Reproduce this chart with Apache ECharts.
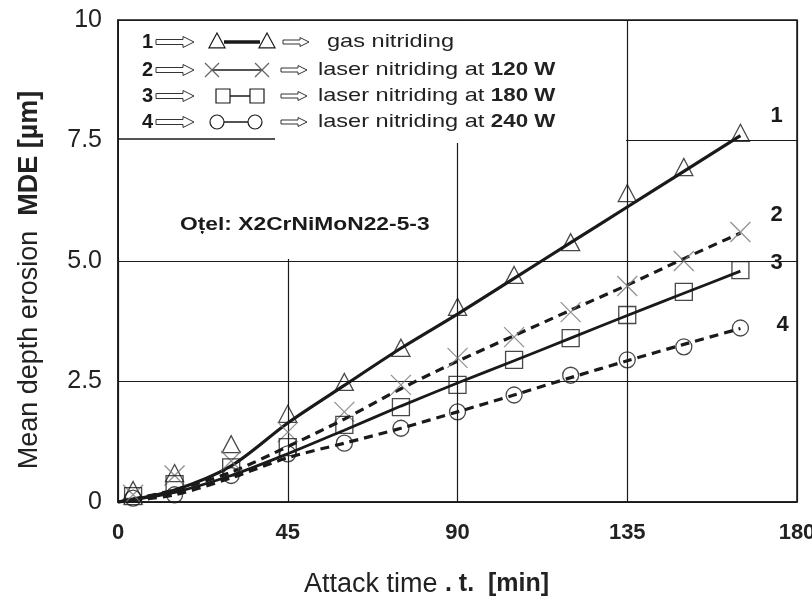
<!DOCTYPE html>
<html>
<head>
<meta charset="utf-8">
<script src="https://cdn.jsdelivr.net/npm/echarts@6/dist/echarts.min.js"></script>
<style>
  html, body { margin: 0; padding: 0; background: #fff; }
  #chart { width: 812px; height: 605px; }
</style>
</head>
<body>
<div id="chart"></div>
<script>
// ---- data ----
const xTicks = [0, 45, 90, 135, 180]
const yTickLabels = { 0: "0", 2.5: "2.5", 5: "5.0", 7.5: "7.5", 10: "10" }
const seriesNumbers = ["1", "2", "3", "4"]
const legendLabels = [
  "gas nitriding",
  "laser nitriding at 120 W",
  "laser nitriding at 180 W",
  "laser nitriding at 240 W"
]

// measured points (markers)
const markerTimes = [4, 15, 30, 45, 60, 75, 90, 105, 120, 135, 150, 165]
const gasMarks = [0.25, 0.6, 1.2, 1.83, 2.49, 3.2, 4.05, 4.71, 5.39, 6.41, 6.95, 7.66]
const laser120Marks = [0.15, 0.55, 0.85, 1.45, 1.87, 2.43, 2.99, 3.42, 3.94, 4.48, 5.0, 5.6]
const laser180Marks = [0.12, 0.37, 0.72, 1.14, 1.6, 1.97, 2.43, 2.95, 3.4, 3.88, 4.36, 4.81]
const laser240Marks = [0.08, 0.15, 0.55, 1.0, 1.22, 1.53, 1.87, 2.22, 2.63, 2.95, 3.22, 3.61]

// fitted curves
const fitTimes = [0, 15, 30, 45, 60, 75, 90, 105, 120, 135, 150, 165]
const gasFit = [0, 0.25, 0.75, 1.64, 2.42, 3.19, 3.9, 4.64, 5.38, 6.12, 6.86, 7.6]
const laser120Fit = [0, 0.25, 0.62, 1.15, 1.72, 2.35, 2.92, 3.45, 3.98, 4.5, 5.05, 5.58]
const laser180Fit = [0, 0.2, 0.55, 1.0, 1.49, 1.99, 2.47, 2.93, 3.4, 3.87, 4.33, 4.79]
const laser240Fit = [0, 0.15, 0.5, 0.92, 1.22, 1.53, 1.87, 2.22, 2.58, 2.93, 3.27, 3.6]

const FONT = "Liberation Sans"
const INK = "#1a1a1a"

var dom = document.getElementById("chart")
var myChart = echarts.init(dom, null, { renderer: "canvas" })

const zip = (xs, ys) => xs.map((x, i) => [x, ys[i]])

const fits = [gasFit, laser120Fit, laser180Fit, laser240Fit]
const marks = [gasMarks, laser120Marks, laser180Marks, laser240Marks]

const fitStyles = [
  { width: 3.2, type: "solid" },
  { width: 3.2, type: [9, 6] },
  { width: 2.8, type: "solid" },
  { width: 3.2, type: [9, 6] }
]
const endOffsets = [[22, -20], [22, -18], [22, -8], [28, -4]]

const markerStyles = [
  { symbol: "triangle", symbolSize: [18, 17], color: INK },
  { symbol: "path://M0,0L10,10M10,0L0,10", symbolSize: 20, color: "#777" },
  { symbol: "rect", symbolSize: 17, color: INK },
  { symbol: "circle", symbolSize: 16, color: INK }
]

const lineSeries = fits.map((ys, i) => ({
  name: legendLabels[i],
  type: "line",
  data: zip(fitTimes, ys),
  smooth: 0.3,
  symbol: "none",
  z: 3,
  lineStyle: { color: INK, width: fitStyles[i].width, type: fitStyles[i].type },
  endLabel: {
    show: true,
    formatter: seriesNumbers[i],
    offset: endOffsets[i],
    fontFamily: FONT,
    fontSize: 22,
    fontWeight: "bold",
    color: INK
  }
}))

const markerSeries = marks.map((ys, i) => ({
  name: legendLabels[i] + " (measured)",
  type: "scatter",
  data: zip(markerTimes, ys),
  symbol: markerStyles[i].symbol,
  symbolSize: markerStyles[i].symbolSize,
  z: 4,
  itemStyle: {
    color: "transparent",
    borderColor: markerStyles[i].color,
    borderWidth: 1.3
  }
}))

// ---- hand drawn key (graphic) ----
const arrow = (x, y, w, s, h, hl) => ({
  type: "polygon",
  shape: {
    points: [
      [x, y - s], [x + w - hl, y - s], [x + w - hl, y - h], [x + w, y],
      [x + w - hl, y + h], [x + w - hl, y + s], [x, y + s]
    ]
  },
  style: { fill: "#fff", stroke: "#333", lineWidth: 1 }
})
const tri = (cx, cy, r) => ({
  type: "polygon",
  shape: { points: [[cx - r, cy + r * 0.85], [cx, cy - r], [cx + r, cy + r * 0.85]] },
  style: { fill: "none", stroke: INK, lineWidth: 1.2 }
})
const seg = (x1, y1, x2, y2, w, c) => ({
  type: "line",
  shape: { x1, y1, x2, y2 },
  style: { stroke: c || INK, lineWidth: w }
})
const cross = (cx, cy, r) => [
  seg(cx - r, cy - r, cx + r, cy + r, 1.2, "#666"),
  seg(cx + r, cy - r, cx - r, cy + r, 1.2, "#666")
]

const rowY = [42, 70, 96, 122]
const keyGraphics = []
rowY.forEach((y, i) => {
  keyGraphics.push({
    type: "text", x: 142, y: y,
    style: { text: seriesNumbers[i], font: `bold 20px "${FONT}"`, fill: INK, verticalAlign: "middle" }
  })
  keyGraphics.push(arrow(156, y, 38, 2.5, 5.5, 11))
  keyGraphics.push(arrow(i === 0 ? 283 : 281, y, 26, 2, 4.5, 9))
  const parts = legendLabels[i].split(" at ")
  const txt = parts.length > 1
    ? `{r|${parts[0]} at }{b|${parts[1]}}`
    : `{r|${parts[0]}}`
  keyGraphics.push({
    type: "text", x: i === 0 ? 327 : 318, y: y, scaleX: 1.24,
    style: {
      text: txt,
      verticalAlign: "middle",
      rich: {
        r: { fontFamily: FONT, fontSize: 19, fill: "#222" },
        b: { fontFamily: FONT, fontSize: 18, fontWeight: "bold", fill: "#222" }
      }
    }
  })
})
// row symbols
keyGraphics.push(seg(224, 42, 260, 42, 3.5), tri(217, 41, 8), tri(267, 41, 8))
keyGraphics.push(seg(212, 70, 262, 70, 1.5), ...cross(212, 70, 7), ...cross(262, 70, 7))
keyGraphics.push(seg(230, 96, 250, 96, 1.5),
  { type: "rect", shape: { x: 216, y: 89, width: 14, height: 14 }, style: { fill: "none", stroke: INK, lineWidth: 1.2 } },
  { type: "rect", shape: { x: 250, y: 89, width: 14, height: 14 }, style: { fill: "none", stroke: INK, lineWidth: 1.2 } })
keyGraphics.push(seg(224, 122, 248, 122, 1.5),
  { type: "circle", shape: { cx: 217, cy: 122, r: 7 }, style: { fill: "none", stroke: INK, lineWidth: 1.2 } },
  { type: "circle", shape: { cx: 255, cy: 122, r: 7 }, style: { fill: "none", stroke: INK, lineWidth: 1.2 } })

var option = {
  animation: false,
  backgroundColor: "#fff",
  grid: {
    left: 118,
    right: 15,
    top: 20,
    bottom: 103,
    outerBoundsMode: "none",
    show: true,
    borderColor: INK,
    borderWidth: 1.5,
    backgroundColor: "transparent"
  },
  xAxis: {
    type: "value",
    min: xTicks[0],
    max: xTicks[xTicks.length - 1],
    interval: 45,
    name: "{a|Attack time }{b|. t.  [min]}",
    nameLocation: "middle",
    nameGap: 69,
    nameTextStyle: {
      padding: [0, 62, 0, 0],
      rich: {
        a: { fontFamily: FONT, fontSize: 27, color: "#222" },
        b: { fontFamily: FONT, fontSize: 25, fontWeight: "bold", color: "#222" }
      }
    },
    axisLine: { show: true, lineStyle: { color: INK, width: 1.5 } },
    axisTick: { show: false },
    axisLabel: {
      margin: 20,
      fontFamily: FONT,
      fontSize: 22,
      fontWeight: "bold",
      color: "#222"
    },
    splitLine: { show: true, lineStyle: { color: INK, width: 1.2 } }
  },
  yAxis: {
    type: "value",
    min: 0,
    max: 10,
    interval: 2.5,
    name: "{a|Mean depth erosion  }{b|MDE [\u00b5m]}",
    nameLocation: "middle",
    nameRotate: 90,
    nameGap: 75,
    nameTextStyle: {
      padding: [0, 38, 0, 0],
      rich: {
        a: { fontFamily: FONT, fontSize: 27, color: "#222" },
        b: { fontFamily: FONT, fontSize: 27, fontWeight: "bold", color: "#222" }
      }
    },
    axisLine: { show: true, lineStyle: { color: INK, width: 1.5 } },
    axisTick: { show: false },
    axisLabel: {
      margin: 16,
      fontFamily: FONT,
      fontSize: 25,
      color: "#222",
      formatter: (v) => yTickLabels[v]
    },
    splitLine: { show: true, lineStyle: { color: INK, width: 1.2 } }
  },
  graphic: [
    // blank area holding the key (hides grid lines there, as in the original)
    { type: "rect", z: 50, shape: { x: 119, y: 21, width: 507, height: 122 }, style: { fill: "#fff" } },
    { type: "rect", z: 50, shape: { x: 119, y: 143, width: 334, height: 116 }, style: { fill: "#fff" } },
    { type: "line", z: 51, shape: { x1: 118, y1: 139, x2: 275, y2: 139 }, style: { stroke: INK, lineWidth: 1.3 } },
    ...keyGraphics.map((el) => ({ ...el, z: 52 })),
    {
      type: "text", z: 52, x: 180, y: 225, scaleX: 1.2,
      style: { text: "O\u021bel: X2CrNiMoN22-5-3", font: `bold 19px "${FONT}"`, fill: INK, verticalAlign: "middle" }
    }
  ],
  series: [...lineSeries, ...markerSeries]
}

myChart.setOption(option)
window.addEventListener("resize", myChart.resize)
</script>
</body>
</html>
